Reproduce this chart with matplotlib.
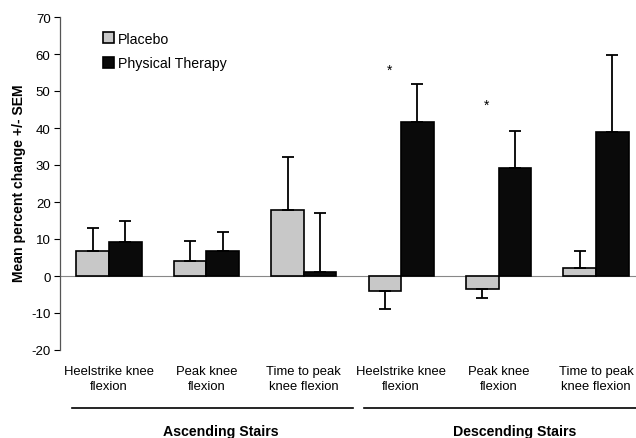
import matplotlib
matplotlib.use("Agg")
import matplotlib.pyplot as plt
import numpy as np
from matplotlib.patches import Patch
from matplotlib.ticker import FuncFormatter

plt.rcParams['font.family'] = ['Liberation Sans', 'DejaVu Sans']

categories = ["Heelstrike knee\nflexion", "Peak knee\nflexion", "Time to peak\nknee flexion",
              "Heelstrike knee\nflexion", "Peak knee\nflexion", "Time to peak\nknee flexion"]
placebo = [6.8, 4.1, 17.9, -4.0, -3.5, 2.1]
placebo_sem = [6.1, 5.4, 14.2, 4.9, 2.5, 4.7]
therapy = [9.3, 6.8, 1.0, 41.7, 29.2, 38.9]
therapy_sem = [5.6, 5.0, 16.0, 10.2, 9.9, 20.8]
star_values = [55.8, 46.3]
star_groups = [3, 4]
groups = ["Ascending Stairs", "Descending Stairs"]

W, H = 636, 439
fig = plt.figure(figsize=(W/100, H/100), dpi=100)
left, right = 60.3/W, 1.0
bottom, top = (H-351)/H, (H-18)/H
ax = fig.add_axes([left, bottom, right-left, top-bottom])

x = np.arange(len(categories))
bw = 0.334
ax.axhline(0, color='#888888', lw=0.8, zorder=1)
ax.bar(x - bw/2, placebo, bw, color='#c8c8c8', edgecolor='black', linewidth=1.2, zorder=2)
ax.bar(x + bw/2, therapy, bw, color='#0a0a0a', edgecolor='black', linewidth=1.2, zorder=2)

def one_sided(xs, vals, sems):
    for xi, v, s in zip(xs, vals, sems):
        if v >= 0:
            lo, hi = [0], [s]
        else:
            lo, hi = [s], [0]
        ax.errorbar(xi, v, yerr=[lo, hi], fmt='none', ecolor='black', elinewidth=1.3,
                    capsize=4, capthick=1.3, zorder=3)

one_sided(x - bw/2, placebo, placebo_sem)
one_sided(x + bw/2, therapy, therapy_sem)

for g, v in zip(star_groups, star_values):
    ax.text(g - 0.12, v, '*', ha='center', va='center', fontsize=10)

ax.set_ylim(-20, 70)
ax.set_yticks(np.arange(-20, 71, 10))
ax.yaxis.set_major_formatter(FuncFormatter(lambda v, p: f"{int(v)}".replace('\u2212', '-')))
xmax = (W - 60.3) / 97.4 - 0.5
ax.set_xlim(-0.5, xmax)
ax.set_xticks(x)
ax.set_xticklabels(categories, fontsize=9.4, linespacing=1.25)
ax.tick_params(axis='x', length=0, pad=11)
ax.tick_params(axis='y', direction='out', length=4, width=0.8, labelsize=9.5, pad=3)
for s in ['top', 'right', 'bottom']:
    ax.spines[s].set_visible(False)
ax.spines['left'].set_color('#555555')
ax.spines['left'].set_linewidth(0.9)
ax.set_ylabel('Mean percent change +/- SEM', fontsize=10.1, fontweight='bold')
ax.yaxis.set_label_coords(-(60.3-26)/(W-60.3), (351-183)/(351-18))

handles = [Patch(facecolor='#c8c8c8', edgecolor='black', linewidth=1.2, label='Placebo'),
           Patch(facecolor='#0a0a0a', edgecolor='black', linewidth=1.2, label='Physical Therapy')]
leg = ax.legend(handles=handles, loc='upper left', bbox_to_anchor=(97/W, (H-27)/H),
                bbox_transform=fig.transFigure, frameon=False, fontsize=10.2,
                handlelength=0.8, handleheight=0.8, handletextpad=0.3, labelspacing=0.75,
                borderaxespad=0)

# group lines and labels
fig.add_artist(plt.Line2D([72/W, 352.7/W], [(H-408.7)/H]*2, color='black', lw=1.2))
fig.add_artist(plt.Line2D([364/W, 636/W], [(H-408.7)/H]*2, color='black', lw=1.2))
fig.text(220.7/W, (H-431.7)/H, groups[0], ha='center', va='center', fontsize=10.2, fontweight='bold')
fig.text(515/W, (H-431.7)/H, groups[1], ha='center', va='center', fontsize=10.2, fontweight='bold')

fig.savefig('out.png', dpi=100)
